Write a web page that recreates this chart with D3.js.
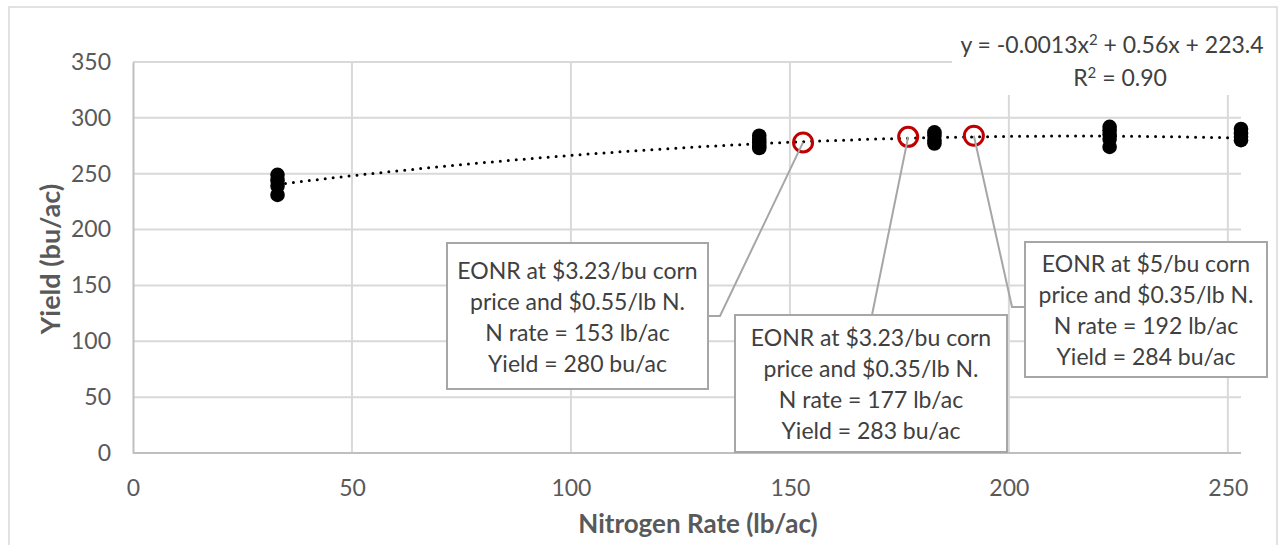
<!DOCTYPE html>
<html>
<head>
<meta charset="utf-8">
<script src="https://cdn.jsdelivr.net/npm/d3@7"></script>
<style>
  body { margin: 0; background: #fff; }
  svg { display: block; font-family: Lato, "Open Sans", sans-serif; }
</style>
</head>
<body>
<script>
var nRates = [33, 143, 183, 223, 253];
var yields = [
  [249, 244, 239, 231],
  [284, 281, 278, 275, 273],
  [287, 284, 280, 277],
  [292, 289, 285, 281, 274],
  [290, 286, 283, 280]
];

// quadratic trendline, as printed: y = c0 + c1 x + c2 x^2
var trendCoef = [223.4, 0.56, -0.0013];
var trendRange = [33, 253];
var r2Label = "0.90";

// EONR points
var eonrRate = [153, 177, 192];
var eonrYield = [278, 283, 284];
var eonrYieldLabel = [280, 283, 284];
var cornPrice = ["$3.23", "$3.23", "$5"];
var nPrice = ["$0.55", "$0.35", "$0.35"];

var xTicks = [0, 50, 100, 150, 200, 250];
var yTicks = [0, 50, 100, 150, 200, 250, 300, 350];

var W = 1282, H = 545;

var svg = d3.select("body").append("svg")
    .attr("width", W)
    .attr("height", H);

var x = d3.scaleLinear().domain([0, 253]).range([133, 1241]);
var y = d3.scaleLinear().domain([0, 350]).range([453, 62]);

// chart border
svg.append("rect")
    .attr("x", 9).attr("y", 7)
    .attr("width", 1268).attr("height", 600)
    .attr("fill", "none")
    .attr("stroke", "#d9d9d9")
    .attr("stroke-width", 1.5);

// gridlines
var grid = svg.append("g");
grid.selectAll(".hg")
    .data(yTicks.filter(function(d) { return d > 0; }))
    .enter().append("line")
    .attr("x1", x(0)).attr("x2", x(253))
    .attr("y1", function(d) { return y(d); })
    .attr("y2", function(d) { return y(d); })
    .attr("stroke", "#d9d9d9").attr("stroke-width", 2);
grid.selectAll(".vg")
    .data(xTicks.filter(function(d) { return d > 0; }))
    .enter().append("line")
    .attr("y1", y(0)).attr("y2", y(350))
    .attr("x1", function(d) { return x(d); })
    .attr("x2", function(d) { return x(d); })
    .attr("stroke", "#d9d9d9").attr("stroke-width", 2);

// axes
var xAxis = svg.append("g")
    .attr("transform", "translate(0," + y(0) + ")")
    .call(d3.axisBottom(x).tickValues(xTicks).tickSize(0).tickPadding(36));
var yAxis = svg.append("g")
    .attr("transform", "translate(" + x(0) + ",0)")
    .call(d3.axisLeft(y).tickValues(yTicks).tickSize(0).tickPadding(22));
[xAxis, yAxis].forEach(function(g) {
  g.select(".domain").attr("stroke", "#bfbfbf").attr("stroke-width", 2);
  g.selectAll("text")
      .attr("fill", "#595959")
      .style("font-size", "23px")
      .style("font-family", "Lato, sans-serif");
});
xAxis.select(".domain").attr("d", "M" + x(0) + ",0H" + x(253));
xAxis.selectAll("text").attr("dy", "0.3em");

// axis titles
svg.append("text")
    .attr("x", 698).attr("y", 523)
    .attr("text-anchor", "middle")
    .attr("dominant-baseline", "central")
    .attr("fill", "#595959")
    .style("font-size", "26px").style("font-weight", "bold")
    .text("Nitrogen Rate (lb/ac)");
svg.append("text")
    .attr("transform", "translate(49,259) rotate(-90)")
    .attr("text-anchor", "middle")
    .attr("dominant-baseline", "central")
    .attr("fill", "#595959")
    .style("font-size", "27px").style("font-weight", "bold")
    .text("Yield (bu/ac)");

// trendline
function trend(v) { return trendCoef[0] + trendCoef[1] * v + trendCoef[2] * v * v; }
var trendPts = d3.range(trendRange[0], trendRange[1] + 0.5, 1);
svg.append("path")
    .datum(trendPts)
    .attr("d", d3.line().x(function(d) { return x(d); }).y(function(d) { return y(trend(d)); }))
    .attr("fill", "none")
    .attr("stroke", "#000")
    .attr("stroke-width", 3)
    .attr("stroke-linecap", "round")
    .attr("stroke-dasharray", "0 8");

// observations
var obs = [];
nRates.forEach(function(n, i) {
  yields[i].forEach(function(v) { obs.push({ n: n, v: v }); });
});
svg.append("g").selectAll("circle")
    .data(obs)
    .enter().append("circle")
    .attr("cx", function(d) { return x(d.n); })
    .attr("cy", function(d) { return y(d.v); })
    .attr("r", 7.3)
    .attr("fill", "#000");

// EONR markers
var eonr = eonrRate.map(function(n, i) {
  return { n: n, v: eonrYield[i], label: eonrYieldLabel[i], corn: cornPrice[i], np: nPrice[i] };
});
svg.append("g").selectAll("circle")
    .data(eonr)
    .enter().append("circle")
    .attr("cx", function(d) { return x(d.n); })
    .attr("cy", function(d) { return y(d.v); })
    .attr("r", 9.5)
    .attr("fill", "none")
    .attr("stroke", "#c00000")
    .attr("stroke-width", 3);

// callout boxes (pixel layout) and leader lines
var boxes = [
  { x: 447, y: 243, w: 261, h: 146, lead: "right", ly: 316, lx: 720 },
  { x: 735, y: 315, w: 272, h: 137, lead: "top", lx: 872 },
  { x: 1025, y: 242, w: 242, h: 135, lead: "left", ly: 307, lx: 1012 }
];

eonr.forEach(function(d, i) {
  var b = boxes[i];
  var px = x(d.n), py = y(d.v);
  var pts;
  if (b.lead === "right") pts = [[b.x + b.w, b.ly], [b.lx, b.ly], [px, py]];
  else if (b.lead === "left") pts = [[b.x, b.ly], [b.lx, b.ly], [px, py]];
  else pts = [[b.lx, b.y], [px, py]];
  svg.append("path")
      .attr("d", d3.line()(pts))
      .attr("fill", "none")
      .attr("stroke", "#a6a6a6")
      .attr("stroke-width", 2);

  svg.append("rect")
      .attr("x", b.x).attr("y", b.y)
      .attr("width", b.w).attr("height", b.h)
      .attr("fill", "#fff")
      .attr("stroke", "#a6a6a6")
      .attr("stroke-width", 2);

  var lines = [
    "EONR at " + d.corn + "/bu corn",
    "price and " + d.np + "/lb N.",
    "N rate = " + d.n + " lb/ac",
    "Yield = " + d.label + " bu/ac"
  ];
  var cy = b.y + b.h / 2;
  svg.append("g").selectAll("text")
      .data(lines)
      .enter().append("text")
      .attr("x", b.x + b.w / 2)
      .attr("y", function(t, j) { return cy + (j - 1.5) * 31; })
      .attr("text-anchor", "middle")
      .attr("dominant-baseline", "central")
      .attr("fill", "#404040")
      .style("font-size", "23px")
      .text(function(t) { return t; });
});

// trendline equation label
svg.append("rect")
    .attr("x", 952).attr("y", 16)
    .attr("width", 322).attr("height", 79)
    .attr("fill", "#fff");
var eq = svg.append("text")
    .attr("x", 1112).attr("y", 44)
    .attr("text-anchor", "middle")
    .attr("dominant-baseline", "central")
    .attr("fill", "#404040")
    .style("font-size", "23px");
eq.append("tspan").text("y = " + trendCoef[2] + "x");
eq.append("tspan").attr("dy", -5).style("font-size", "15px").text("2");
eq.append("tspan").attr("dy", 5).text(" + " + trendCoef[1] + "x + " + trendCoef[0]);
var r2 = svg.append("text")
    .attr("x", 1120).attr("y", 77)
    .attr("text-anchor", "middle")
    .attr("dominant-baseline", "central")
    .attr("fill", "#404040")
    .style("font-size", "23px");
r2.append("tspan").text("R");
r2.append("tspan").attr("dy", -5).style("font-size", "15px").text("2");
r2.append("tspan").attr("dy", 5).text(" = " + r2Label);
</script>
</body>
</html>
